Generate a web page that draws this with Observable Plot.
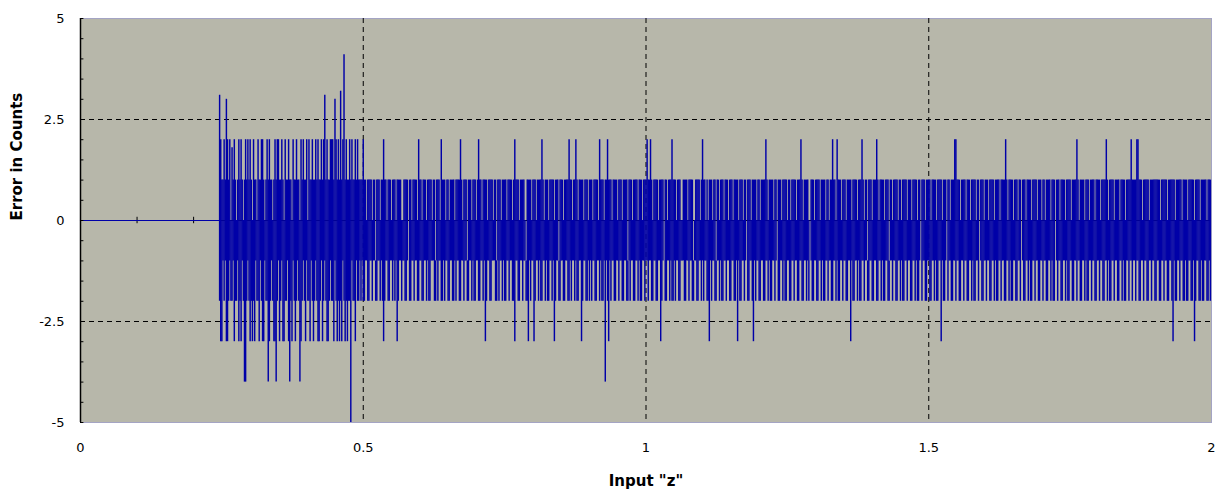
<!DOCTYPE html>
<html>
<head>
<meta charset="utf-8">
<script src="https://cdn.jsdelivr.net/npm/d3@7"></script>
<script src="https://cdn.jsdelivr.net/npm/@observablehq/plot@0.6"></script>
<style>
  html, body { margin: 0; padding: 0; background: #ffffff; }
  #chart { width: 1228px; height: 493px; }
</style>
</head>
<body>
<div id="chart"></div>
<script>
// ---- axes / grid ----
const xTicks = [0, 0.5, 1, 1.5, 2];
const yTicks = [-5, -2.5, 0, 2.5, 5];
const yMinorTicks = [-4.5, -4, -3.5, -3, -2, -1.5, -1, -0.5, 0.5, 1, 1.5, 2, 3, 3.5, 4, 4.5];
const xGrid = [0.5, 1, 1.5];
const yGrid = [-2.5, 2.5];
const zeroAxisTicks = [0.1, 0.2];

// ---- flat part of the error trace before the signal starts ----
const flatX = [0, 0.245];
const flatErr = [0, 0];

// ---- dense part: the trace is so dense that each column (0.002 wide in "z",
// starting at z = 0.246) shows as a vertical stroke from its lowest to its highest value ----
const colStart = 0.246;
const colStep = 0.002;

const hiPart1 = [
 3.1, 2, 1, 1, 2, 1, 3, 2, 1, 2, 0, 1.8, 1, 2, 1, 0, 1, 2, 1, 2, 1, 0, 1, 2, 1,
 2, 1, 2, 1, 0, 2, 1, 1, 0, 2, 1, 1, 2, 2, 1, 0, 1, 2, 1, 2, 1, 1, 0, 1, 2,
 1, 2, 2, 1, 1, 2, 1, 0, 2, 1, 1, 2, 1, 1, 0, 2, 1, 1, 2, 1, 1, 0, 2, 1, 2,
 1, 1, 2, 0, 2, 1, 1, 2, 1, 1, 2, 1, 2, 1, 1, 2, 1, 2, 3.1, 1, 2, 1, 1, 2, 2,
 2, 1, 3, 2, 1, 2, 1, 3.2, 1, 2, 4.1, 1, 2, 1, 1, 2, 1, 2, 1, 1, 2, 1, 2, 1, 1, 1, 1, 2
];
const loPart1 = [
 -2, -3, -3, -1, -2, -1, -3, -3, -2, -1, -2, -2, -1, -3, -2, -2, -1, -3, -2, -3, -1, -2, -4, -4, -2,
 -1, -2, -3, -2, -3, -2, -3, -1, -2, -2, -3, -1, -2, -3, -3, -1, -2, -2, -4, -3, -2, -1, -2, -3, -3,
 -4, -2, -1, -3, -2, -1, -3, -3, -2, -2, -1, -3, -4, -2, -3, -1, -2, -3, -2, -1, -2, -4, -3, -2, -1,
 -2, -3, -1, -2, -2, -3, -1, -2, -3, -2, -1, -2, -3, -3, -2, -1, -3, -2, -1, -2, -3, -3, -2, -1, -2,
 -2, -3, -1, -2, -3, -2, -3, -2, -3, -1, -2, -3, -2, -3, -2, -2, -5, -1, -2, -2, -3, -1, -2, -2, -1, -2, -1, -2
];

const hiPart2 = [
 1, 1, 0, 1, 1, 1, 1, 0, 1, 1, -1, 1, 1, 1, 0, 1, 1, 2, 1, 1, 0, 1, 1, 1, 0,
 1, 1, 1, 0, 1, 1, 1, 1, 0, 0, 1, 1, 1, 1, -1, 1, 1, 0, 1, 1, 1, 1, 0, 2, 1,
 1, 0, 1, 1, 1, 0, 1, 1, 1, 1, 0, 1, 1, -1, 1, 1, 1, 0, 2, 1, 1, 1, 0, 1, 1,
 0, 1, 1, 1, 1, 0, 1, 1, 1, 1, 2, 1, 0, 1, 1, 1, -1, 1, 1, 1, 0, 1, 1, 1, 0,
 1, 2, 1, 1, 0, 1, 1, 1, 1, 0, 1, 1, 1, 1, 0, 1, 1, -1, 1, 1, 1, 0, 1, 1, 1
];
const loPart2 = [
 -2, -1, -1, -2, -2, -1, -1, -2, -1, -1, -2, -2, -1, -1, -2, -1, -2, -3, -2, -1, -1, -2, -2, -1, -1,
 -2, -1, -2, -1, -3, -2, -1, -1, -2, -1, -1, -2, -2, -1, -1, -2, -2, -1, -1, -2, -1, -1, -2, -2, -1,
 -1, -2, -2, -1, -1, -2, -1, -2, -2, -1, -1, -1, -2, -2, -1, -2, -1, -1, -2, -2, -1, -2, -1, -1, -2,
 -2, -1, -1, -2, -2, -1, -2, -1, -1, -2, -2, -1, -1, -2, -1, -1, -2, -2, -1, -1, -2, -1, -2, -2, -1,
 -1, -2, -2, -1, -1, -2, -1, -3, -2, -1, -1, -2, -2, -1, -1, -1, -2, -2, -1, -2, -1, -1, -2, -1, -2
];

const hiPart3 = [
 1, 0, 1, 1, 1, 1, 0, 1, 2, 1, 1, 1, 0, 1, 1, 1, 1, 0, -1, 1, 1, 1, 1, 0, 1,
 1, 1, 0, 1, 1, 1, 1, 2, 1, 0, 1, 1, 1, 0, 1, 1, 1, 1, 0, 1, 1, 1, -1, 1, 1,
 1, 0, 1, 1, 1, 1, 2, 1, 1, 0, 1, 1, 2, 1, 0, 1, 1, 1, 1, 0, 1, 1, 1, 0, 1,
 1, 1, 0, 1, 1, 1, 1, 0, 2, 1, 1, 1, 0, 1, 1, 2, 1, 1, 1, 0, 1, 1, 1, 1, 0,
 1, 1, 1, 0, 1, 1, 1, 1, -1, 1, 1, 1, 0, 1, 1, 1, 1, 0, 1, 1, 1, 0, 1, 1, 1
];
const loPart3 = [
 -2, -1, -1, -2, -1, -1, -2, -2, -3, -1, -1, -2, -2, -1, -1, -2, -1, -1, -2, -2, -3, -1, -2, -1, -1,
 -3, -2, -1, -1, -2, -1, -2, -2, -1, -1, -2, -1, -2, -2, -1, -1, -2, -1, -3, -2, -1, -1, -2, -2, -1,
 -1, -2, -2, -1, -1, -2, -2, -1, -2, -1, -1, -2, -1, -2, -2, -1, -1, -3, -2, -1, -1, -2, -2, -1, -2,
 -1, -2, -1, -1, -2, -2, -1, -1, -2, -1, -2, -2, -1, -4, -1, -2, -3, -1, -2, -1, -1, -2, -2, -1, -1,
 -2, -1, -1, -2, -2, -1, -1, -2, -2, -1, -2, -1, -1, -2, -2, -1, -1, -2, -1, -2, -2, -1, -1, -2, -1
];

const hiPart4 = [
 2, 1, 1, 2, 1, 0, 1, 1, 1, 1, 0, 1, 1, 1, 1, -1, 1, 1, 0, 1, 1, 1, 2, 1, 1,
 1, 0, 1, 1, 1, 0, 0, 1, 1, 1, 1, 0, 1, 1, 1, 1, -1, 0, 1, 1, 1, 1, 0, 1, 2,
 1, 1, 0, 1, 0, 1, 1, 1, 0, 1, 1, -1, 1, 1, 0, 1, 1, 1, 0, 1, 1, 1, 0, 1, 1,
 1, 0, 1, 1, 1, 1, 0, 1, 1, 1, 0, 1, 1, -1, 1, 1, 1, 0, 1, 1, 1, 1, 0, 1, 1,
 0, 1, 1, 1, 1, 2, 1, 0, 1, 1, 1, 1, 0, 1, 1, -1, 1, 1, 1, 0, 1, 1, 1, 1, 0
];
const loPart4 = [
 -1, -2, -1, -1, -2, -2, -1, -1, -2, -2, -1, -1, -3, -2, -1, -1, -2, -2, -1, -1, -2, -1, -2, -2, -1,
 -2, -1, -1, -2, -2, -1, -1, -1, -2, -2, -1, -1, -2, -1, -1, -2, -2, -1, -1, -2, -2, -1, -1, -2, -1,
 -2, -1, -1, -2, -2, -3, -1, -2, -1, -1, -2, -2, -1, -1, -2, -1, -2, -2, -1, -1, -2, -1, -1, -2, -2,
 -1, -1, -2, -2, -1, -3, -1, -2, -2, -1, -1, -2, -1, -1, -2, -2, -1, -1, -2, -3, -1, -2, -1, -1, -2,
 -2, -1, -1, -2, -2, -1, -1, -2, -1, -2, -2, -1, -1, -2, -1, -1, -2, -2, -1, -1, -2, -1, -2, -2, -1
];

const hiPart5 = [
 1, 1, 0, 1, 1, 1, 1, 0, 1, 1, 1, 2, 1, 0, 1, 1, 1, 1, 0, -1, 1, 1, 1, 0, 1,
 1, 1, 1, 0, 1, 1, 1, 1, 0, 1, 1, 0, 1, 1, 2, 1, 1, 0, 2, 1, 1, 1, 0, 1, 1,
 1, 0, 1, 1, 1, 1, 0, 1, 1, 1, 1, 0, 1, 1, 1, 2, 1, 0, 1, 1, -1, 1, 1, 1, 0,
 1, 1, 1, 2, 1, 0, 1, 1, 1, 1, 0, 1, 1, 1, -1, 1, 1, 0, 1, 1, 1, 1, 0, 1, 1,
 0, 1, 1, 1, 1, 0, 1, 1, 1, 0, 1, 1, 1, 1, 0, 1, 1, -1, 1, 1, 1, 0, 1, 1, 1
];
const loPart5 = [
 -1, -2, -2, -1, -1, -2, -1, -1, -2, -2, -1, -1, -2, -2, -1, -1, -2, -1, -2, -1, -1, -2, -2, -1, -1,
 -2, -2, -1, -1, -2, -1, -2, -2, -1, -1, -2, -1, -1, -2, -2, -1, -1, -2, -1, -2, -2, -1, -1, -2, -1,
 -1, -2, -2, -1, -1, -3, -1, -2, -2, -1, -1, -2, -1, -2, -2, -1, -1, -2, -1, -1, -2, -2, -1, -1, -2,
 -2, -1, -1, -2, -2, -1, -1, -2, -1, -2, -2, -1, -1, -2, -2, -1, -1, -2, -1, -1, -2, -2, -1, -1, -2,
 -1, -2, -2, -1, -1, -2, -1, -1, -2, -2, -1, -1, -2, -1, -2, -2, -1, -1, -2, -1, -1, -2, -2, -1, -1
];

const hiPart6 = [
 1, 0, 1, 1, 1, 1, 0, 1, 1, 1, 1, 0, 1, 1, 1, -1, 1, 1, 0, 1, 1, 1, 2, 2, 1,
 1, 1, 0, 1, 1, 1, 1, 0, 1, 1, 1, 0, 1, 1, 1, 1, 0, 1, 1, -1, 1, 1, 1, 0, 1,
 1, 1, 0, 1, 1, 1, 1, 0, 1, 1, 1, 1, 0, 1, 1, 1, 1, 2, 1, 0, 1, 1, 1, 1, 0,
 1, 1, 1, 0, 1, 1, -1, 1, 1, 1, 0, 1, 1, 1, 1, 0, 1, 1, 1, 1, 0, 1, 1, 1, 0,
 1, 1, 0, 1, 1, 1, 1, 0, 1, 1, 1, -1, 1, 1, 1, 0, 1, 1, 1, 1, 0, 1, 1, 1, 1
];
const loPart6 = [
 -2, -2, -1, -1, -2, -1, -2, -2, -1, -1, -3, -1, -2, -2, -1, -1, -2, -1, -1, -2, -2, -1, -1, -2, -1,
 -1, -2, -2, -1, -1, -2, -1, -1, -2, -2, -1, -1, -2, -1, -2, -2, -1, -1, -2, -1, -1, -2, -2, -1, -1,
 -2, -1, -1, -2, -2, -1, -1, -2, -1, -2, -2, -1, -1, -2, -1, -1, -2, -2, -1, -1, -2, -1, -2, -2, -1,
 -1, -2, -2, -1, -1, -2, -1, -1, -2, -2, -1, -1, -2, -1, -2, -2, -1, -1, -2, -1, -1, -2, -2, -1, -1,
 -2, -1, -1, -2, -2, -1, -1, -2, -1, -2, -2, -1, -1, -2, -1, -1, -2, -2, -1, -1, -2, -1, -2, -2, -1
];

const hiPart7 = [
 0, 1, 1, 1, 1, 2, 1, 0, 1, 1, 1, 1, 0, 1, 1, 1, 0, 1, 1, 1, 1, 0, 1, 1, 1,
 1, 0, 1, 1, 1, 1, 2, 1, 0, 1, 1, 1, 1, 0, 1, 1, 1, 1, 0, 1, 1, 1, 1, 0, 1,
 1, 1, 1, 2, 1, 1, 1, 1, 2, 2, 1, 1, 1, 0, 1, 1, 1, 1, 1, 0, 1, 1, 1, 1, 1,
 1, 1, 1, 1, 0, 1, 1, 1, 1, 1, 0, 1, 1, 1, 1, 1, 1, 0, 1, 1, 1, 1, 1, 0, 1,
 1, 1, 1, 0, 1, 1, 1, 1, 1, 0, 1, 1, 1, 1, 0, 1, 1, 1, 1, 1, 0, 1, 1, 1, 0
];
const loPart7 = [
 -1, -2, -2, -1, -1, -2, -1, -1, -2, -2, -1, -1, -2, -1, -2, -2, -1, -1, -2, -1, -1, -2, -2, -1, -1,
 -2, -1, -1, -2, -2, -1, -1, -2, -1, -2, -2, -1, -1, -2, -1, -1, -2, -2, -1, -1, -2, -1, -2, -2, -1,
 -1, -2, -1, -1, -2, -1, -1, -2, -1, -1, -2, -2, -1, -1, -2, -1, -1, -2, -2, -1, -1, -2, -1, -1, -2,
 -2, -1, -1, -2, -2, -1, -1, -2, -1, -1, -2, -2, -1, -1, -2, -3, -1, -2, -2, -1, -1, -2, -1, -1, -2,
 -2, -1, -2, -2, -1, -1, -2, -2, -1, -3, -2, -1, -1, -2, -2, -1, -2, -2, -1, -1, -2, -2, -1, -2, 0
];

// ---- build tables ----
const hiAll = [].concat(hiPart1, hiPart2, hiPart3, hiPart4, hiPart5, hiPart6, hiPart7);
const loAll = [].concat(loPart1, loPart2, loPart3, loPart4, loPart5, loPart6, loPart7);
const columns = hiAll.map((hi, i) => ({
  x: +(colStart + i * colStep).toFixed(4),
  hi,
  lo: Math.min(hi, loAll[i] ?? hi)
}));
const flat = flatX.map((x, i) => ({x, err: flatErr[i]}));

const bg = "#b7b7aa";
const lineColor = "#0000a8";

const chart = Plot.plot({
  width: 1228,
  height: 493,
  marginLeft: 80,
  marginRight: 17,
  marginTop: 18,
  marginBottom: 71,
  style: {fontFamily: "DejaVu Sans", fontSize: "13px", background: "#ffffff", color: "#000"},
  x: {domain: [0, 2], ticks: xTicks, tickSize: 0, tickPadding: 20, tickFormat: d => String(d), label: null},
  y: {domain: [-5, 5], ticks: yTicks, tickSize: 0, tickPadding: 16, tickFormat: d => String(d), label: null},
  marks: [
    Plot.frame({fill: bg, stroke: "#a4a4c4"}),
    Plot.ruleY(yGrid, {stroke: "#000", strokeDasharray: "5,4", strokeWidth: 1}),
    Plot.ruleX(xGrid, {stroke: "#000", strokeDasharray: "5,4", strokeWidth: 1}),
    Plot.ruleY([0], {stroke: "#000", strokeWidth: 1}),
    Plot.ruleX(zeroAxisTicks, {y1: -0.08, y2: 0.08, stroke: "#000", strokeWidth: 1}),
    Plot.line(flat, {x: "x", y: "err", stroke: lineColor, strokeWidth: 1.2}),
    Plot.ruleX(columns, {x: "x", y1: "lo", y2: "hi", stroke: lineColor, strokeWidth: 1.45}),
    Plot.ruleX([0], {stroke: "#000", strokeWidth: 1.5}),
    Plot.ruleY(yMinorTicks.concat(yTicks), {x1: 0, x2: 0.006, stroke: "#000", strokeWidth: 1}),
    Plot.text(["Input \"z\""], {frameAnchor: "bottom", dy: 59, fontWeight: "bold", fontSize: 15, fill: "#000", lineAnchor: "middle"}),
    Plot.text(["Error in Counts"], {frameAnchor: "left", dx: -63, rotate: -90, fontWeight: "bold", fontSize: 15, fill: "#000", lineAnchor: "middle"})
  ]
});
document.getElementById("chart").appendChild(chart);
</script>
</body>
</html>
